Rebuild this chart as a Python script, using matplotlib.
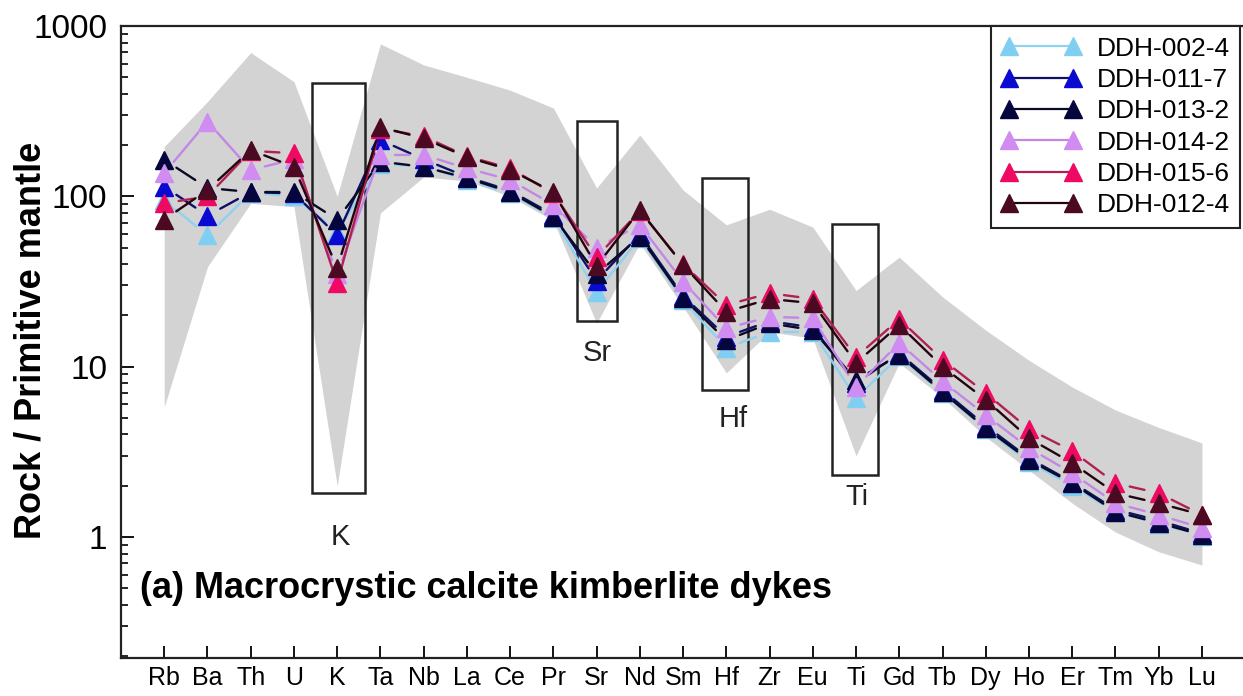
import matplotlib
matplotlib.use('Agg')
import matplotlib.pyplot as plt
from matplotlib.lines import Line2D
from matplotlib.patches import Rectangle
from matplotlib.ticker import LogLocator, NullFormatter
import numpy as np

plt.rcParams['font.family'] = ['Liberation Sans', 'DejaVu Sans']

# ---------------- data ----------------
elements = ['Rb', 'Ba', 'Th', 'U', 'K', 'Ta', 'Nb', 'La', 'Ce', 'Pr', 'Sr', 'Nd', 'Sm',
            'Hf', 'Zr', 'Eu', 'Ti', 'Gd', 'Tb', 'Dy', 'Ho', 'Er', 'Tm', 'Yb', 'Lu']

series_names = ['DDH-002-4', 'DDH-011-7', 'DDH-013-2', 'DDH-014-2', 'DDH-015-6', 'DDH-012-4']

ddh_002_4 = [95, 59, 105, 100, 62, 155, 150, 125, 104, 75, 27.5, 57, 24.5, 12.9, 16, 16,
             6.55, 11.5, 7.0, 4.3, 2.75, 2.0, 1.4, 1.2, 1.02]
ddh_011_7 = [114, 77, 106, 104, 59, 214, 165, 130, 108, 78, 32, 60, 26, 15, 18.5, 17,
             8.0, 12, 7.3, 4.5, 2.9, 2.1, 1.45, 1.25, 1.05]
ddh_013_2 = [164, 112, 106, 106, 73, 160, 149, 128, 106, 76, 35, 58, 25.3, 14.3, 18, 16.4,
             8.35, 11.7, 7.1, 4.36, 2.83, 2.07, 1.41, 1.21, 1.03]
ddh_014_2 = [137, 275, 143, 165, 35, 175, 175, 146, 125, 89, 50, 68, 31.6, 16.8, 19.6, 19.3,
             7.6, 13.8, 8.2, 5.2, 3.33, 2.37, 1.58, 1.35, 1.13]
ddh_015_6 = [91, 100, 185, 179, 31, 250, 225, 172, 146, 104, 44, 82, 40, 23, 27, 25,
             11.4, 19, 11, 7.0, 4.3, 3.2, 2.07, 1.81, 1.35]
ddh_012_4 = [73, 109, 187, 149, 38, 255, 219, 170, 143, 106, 39, 83, 39.5, 21, 25, 23.6,
             10.5, 17.6, 10, 6.4, 3.8, 2.72, 1.81, 1.58, 1.35]

# grey field (range of other kimberlites)
band_upper = [196, 360, 698, 471, 100, 785, 591, 500, 420, 330, 112, 229, 109, 68, 84, 66,
              28, 44, 25.7, 16.4, 10.9, 7.6, 5.57, 4.4, 3.57]
band_lower = [5.8, 38.6, 91, 87, 2.0, 80, 130, 123, 100, 72, 18, 53, 22.5, 9.2, 16, 14.7,
              3.0, 10.5, 6.6, 3.87, 2.47, 1.58, 1.07, 0.82, 0.685]

# highlighted elements (boxes) and their labels
box_elements = ['K', 'Sr', 'Hf', 'Ti']
box_x_left = [3.42, 9.55, 12.44, 15.45]
box_x_right = [4.65, 10.47, 13.50, 16.51]
box_y_bottom = [1.81, 18.5, 7.3, 2.31]
box_y_top = [463, 277, 128, 68.9]
box_label_x = [4.07, 10.01, 13.16, 16.02]
box_label_y = [1.0, 12.0, 4.93, 1.72]

# ---------------- styles ----------------
marker_colors = ['#80cff2', '#0a0ad0', '#06063e', '#d08cf0', '#ee0a62', '#4c0a22']
line_colors = ['#8ed2f0', '#10106a', '#0a0a26', '#c486e6', '#b02052', '#240410']

all_series = [ddh_002_4, ddh_011_7, ddh_013_2, ddh_014_2, ddh_015_6, ddh_012_4]

fig = plt.figure(figsize=(12.43, 6.96), dpi=100)
ax = fig.add_axes([121 / 1243, 38 / 696, 1122 / 1243, 632 / 696])
ax.set_yscale('log')
ax.set_xlim(-1, 24.95)
ax.set_ylim(0.195, 1000)

x = np.arange(len(elements))
ax.fill_between(x, band_lower, band_upper, color='#d3d3d3', lw=0, zorder=0)

for bx0, bx1, by0, by1 in zip(box_x_left, box_x_right, box_y_bottom, box_y_top):
    ax.add_patch(Rectangle((bx0, by0), bx1 - bx0, by1 - by0, fill=False,
                           ec='#222222', lw=1.8, zorder=1.5))
for lab, lx, ly in zip(box_elements, box_label_x, box_label_y):
    ax.text(lx, ly, lab, ha='center', va='center', fontsize=21, color='#222222')

ms = 13.5
for k, (vals, mc, lc) in enumerate(zip(all_series, marker_colors, line_colors)):
    z = 2 + k * 0.1
    for i in range(len(x) - 1):
        ax.annotate('', xy=(x[i + 1], vals[i + 1]), xytext=(x[i], vals[i]),
                    arrowprops=dict(arrowstyle='-', color=lc, lw=1.7,
                                    shrinkA=10.5, shrinkB=10.5),
                    zorder=z)
    ax.plot(x, vals, ls='none', marker='^', ms=ms, mfc=mc, mec=mc, zorder=z + 0.05)

ax.text(-0.56, 0.5, '(a) Macrocrystic calcite kimberlite dykes', ha='left', va='center',
        fontsize=26, fontweight='bold', color='black')

# axes styling
for side in ['left', 'bottom', 'top']:
    ax.spines[side].set_linewidth(1.6)
    ax.spines[side].set_color('#222222')
ax.spines['right'].set_visible(False)

ax.set_xticks(x)
ax.set_xticklabels(elements, fontsize=18)
ax.tick_params(axis='x', direction='in', length=9, width=1.3, pad=6, top=False)

ax.set_yticks([1, 10, 100, 1000])
ax.set_yticklabels(['1', '10', '100', '1000'], fontsize=24)
ax.yaxis.set_minor_locator(LogLocator(base=10, subs=np.arange(2, 10)))
ax.yaxis.set_minor_formatter(NullFormatter())
ax.tick_params(axis='y', which='major', direction='in', length=9, width=1.3, pad=10, right=False)
ax.tick_params(axis='y', which='minor', direction='in', length=5, width=1.2, right=False)

ax.set_ylabel('Rock / Primitive mantle', fontsize=26, fontweight='bold', va='center')
ax.yaxis.set_label_coords(-0.080, 0.503)

handles = [Line2D([0], [0], color=lc, lw=1.6, marker='^', ms=ms, mfc=mc, mec=mc)
           for mc, lc in zip(marker_colors, line_colors)]
leg = ax.legend(handles, series_names, loc='upper right', bbox_to_anchor=(0.9975, 1.0),
                numpoints=2, fontsize=19, frameon=True, fancybox=False, edgecolor='#222222',
                framealpha=1, handlelength=3.0, handletextpad=0.6, labelspacing=0.28,
                borderpad=0.4, borderaxespad=0)
leg.get_frame().set_linewidth(1.5)
leg.set_zorder(10)

fig.savefig('out.png', dpi=100)
